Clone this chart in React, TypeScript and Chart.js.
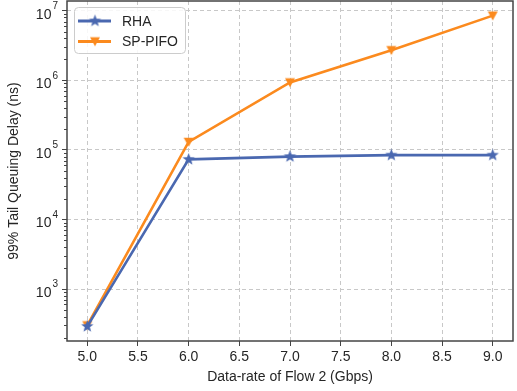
import React, { useEffect, useRef } from "react";
import { Chart, registerables } from "chart.js";

Chart.register(...registerables);

const xValues = [5.0, 6.0, 7.0, 8.0, 9.0];
const rhaValues = [290, 73000, 80000, 84000, 84000];
const spPifoValues = [300, 130000, 930000, 2700000, 8500000];
const xTickValues = [5.0, 5.5, 6.0, 6.5, 7.0, 7.5, 8.0, 8.5, 9.0];
const yTickExponents = [3, 4, 5, 6, 7];
const seriesNames = ["RHA", "SP-PIFO"];
const xTitle = "Data-rate of Flow 2 (Gbps)";
const yTitle = "99% Tail Queuing Delay (ns)";

const BLUE = "#4a68b0";
const ORANGE = "#fb8a1e";
const FONT = "'Liberation Sans', Arial, sans-serif";
const TEXT = "#262626";
const FRAME = "#444444";
const GRID = "#c8c8c8";

function makeStar(color: string, r: number) {
  const c = document.createElement("canvas");
  const s = Math.ceil(r * 2 + 2);
  c.width = s;
  c.height = s;
  const ctx = c.getContext("2d")!;
  const cx = s / 2, cy = s / 2;
  ctx.beginPath();
  for (let i = 0; i < 10; i++) {
    const rr = i % 2 === 0 ? r : r * 0.42;
    const a = -Math.PI / 2 + (i * Math.PI) / 5;
    const x = cx + rr * Math.cos(a);
    const y = cy + rr * Math.sin(a);
    if (i === 0) ctx.moveTo(x, y);
    else ctx.lineTo(x, y);
  }
  ctx.closePath();
  ctx.fillStyle = color;
  ctx.fill();
  return c;
}

function makeTriDown(color: string, r: number) {
  const c = document.createElement("canvas");
  const s = Math.ceil(r * 2 + 2);
  c.width = s;
  c.height = s;
  const ctx = c.getContext("2d")!;
  const cx = s / 2, cy = s / 2;
  ctx.beginPath();
  ctx.moveTo(cx - r, cy - r * 0.85);
  ctx.lineTo(cx + r, cy - r * 0.85);
  ctx.lineTo(cx, cy + r * 0.95);
  ctx.closePath();
  ctx.fillStyle = color;
  ctx.fill();
  return c;
}

export default function App() {
  const ref = useRef<HTMLCanvasElement>(null);

  useEffect(() => {
    document.body.style.margin = "0";
    const star = makeStar(BLUE, 6.5);
    const tri = makeTriDown(ORANGE, 5);
    const markers = [star, tri];
    const colors = [BLUE, ORANGE];

    const framePlugin = {
      id: "frameAndExtras",
      afterDatasetsDraw(chart: any) {
        const { ctx, chartArea } = chart;
        const ys = chart.scales.y;
        ctx.save();
        // minor ticks
        ctx.strokeStyle = FRAME;
        ctx.lineWidth = 1;
        for (let k = 2; k <= 7; k++) {
          for (let m = 2; m <= 9; m++) {
            const v = m * Math.pow(10, k);
            if (v < ys.min || v > ys.max) continue;
            const py = Math.round(ys.getPixelForValue(v)) + 0.5;
            ctx.beginPath();
            ctx.moveTo(chartArea.left - 3, py);
            ctx.lineTo(chartArea.left, py);
            ctx.stroke();
          }
        }
        // y labels with superscript
        ctx.fillStyle = TEXT;
        ctx.textBaseline = "middle";
        for (const e of yTickExponents) {
          const py = ys.getPixelForValue(Math.pow(10, e));
          const expStr = String(e);
          ctx.font = `10px ${FONT}`;
          const ew = ctx.measureText(expStr).width;
          const right = chartArea.left - 9;
          ctx.textAlign = "left";
          ctx.fillText(expStr, right - ew, py - 4.5);
          ctx.font = `14px ${FONT}`;
          ctx.textAlign = "right";
          ctx.fillText("10", right - ew - 1, py + 4);
        }
        // frame
        ctx.strokeStyle = FRAME;
        ctx.lineWidth = 1.5;
        ctx.strokeRect(
          chartArea.left,
          chartArea.top,
          chartArea.right - chartArea.left,
          chartArea.bottom - chartArea.top
        );
        // legend
        const lx = chartArea.left + 7;
        const ly = chartArea.top + 6;
        const lw = 111;
        const lh = 46;
        ctx.beginPath();
        (ctx as any).roundRect(lx + 0.5, ly + 0.5, lw, lh, 4);
        ctx.fillStyle = "rgba(255,255,255,0.85)";
        ctx.fill();
        ctx.strokeStyle = "#cccccc";
        ctx.lineWidth = 1;
        ctx.stroke();
        seriesNames.forEach((name, i) => {
          const ry = ly + 14 + i * 20.5;
          ctx.strokeStyle = colors[i];
          ctx.lineWidth = 2.8;
          ctx.beginPath();
          ctx.moveTo(lx + 4, ry);
          ctx.lineTo(lx + 37, ry);
          ctx.stroke();
          const mk = markers[i];
          ctx.drawImage(mk, lx + 21 - mk.width / 2, ry - mk.height / 2);
          ctx.fillStyle = TEXT;
          ctx.font = `14px ${FONT}`;
          ctx.textAlign = "left";
          ctx.textBaseline = "middle";
          ctx.fillText(name, lx + 48, ry + 1);
        });
        ctx.restore();
      },
    };

    const gridOpts: any = {
      color: GRID,
      lineWidth: 1,
      drawTicks: true,
      tickLength: 5,
      tickColor: FRAME,
      tickBorderDash: [],
      tickWidth: 1,
    };

    const chart = new Chart(ref.current!, {
      type: "line",
      data: {
        datasets: [
          {
            label: seriesNames[0],
            data: xValues.map((x, i) => ({ x, y: rhaValues[i] })),
            borderColor: BLUE,
            backgroundColor: BLUE,
            borderWidth: 2.6,
            pointStyle: star as any,
            pointRadius: 6,
          },
          {
            label: seriesNames[1],
            data: xValues.map((x, i) => ({ x, y: spPifoValues[i] })),
            borderColor: ORANGE,
            backgroundColor: ORANGE,
            borderWidth: 2.6,
            pointStyle: tri as any,
            pointRadius: 5,
          },
        ],
      },
      options: {
        animation: false,
        responsive: false,
        maintainAspectRatio: false,
        layout: { autoPadding: false, padding: { top: 1, right: 4, left: 0, bottom: 0 } },
        plugins: {
          legend: { display: false },
          tooltip: { enabled: false },
        },
        scales: {
          x: {
            type: "linear",
            min: 4.8,
            max: 9.2,
            afterBuildTicks: (s: any) => {
              s.ticks = xTickValues.map((v) => ({ value: v }));
            },
            afterFit: (s: any) => {
              s.height = 50;
              s.paddingLeft = 0;
              s.paddingRight = 0;
            },
            border: { display: false, dash: [4, 3] },
            grid: gridOpts,
            ticks: {
              color: TEXT,
              font: { family: FONT, size: 14 },
              padding: 3,
              maxRotation: 0,
              callback: (v: any) => Number(v).toFixed(1),
            },
            title: {
              display: true,
              text: xTitle,
              color: TEXT,
              font: { family: FONT, size: 14 },
              padding: { top: 0, bottom: 5 },
            },
          },
          y: {
            type: "logarithmic",
            min: 179,
            max: 1.38e7,
            afterBuildTicks: (s: any) => {
              s.ticks = yTickExponents.map((e) => ({ value: Math.pow(10, e), major: true }));
            },
            afterFit: (s: any) => {
              s.width = 67;
              s.paddingTop = 0;
              s.paddingBottom = 0;
            },
            border: { display: false, dash: [4, 3] },
            grid: gridOpts,
            ticks: {
              display: false,
            },
            title: {
              display: true,
              text: yTitle,
              color: TEXT,
              font: { family: FONT, size: 14 },
              padding: { top: 6, bottom: 0 },
            },
          },
        },
      },
      plugins: [framePlugin],
    });
    return () => chart.destroy();
  }, []);

  return (
    <div style={{ position: "absolute", left: 0, top: 0, width: 517, height: 391 }}>
      <canvas ref={ref} width={517} height={391} style={{ width: 517, height: 391 }} />
    </div>
  );
}
